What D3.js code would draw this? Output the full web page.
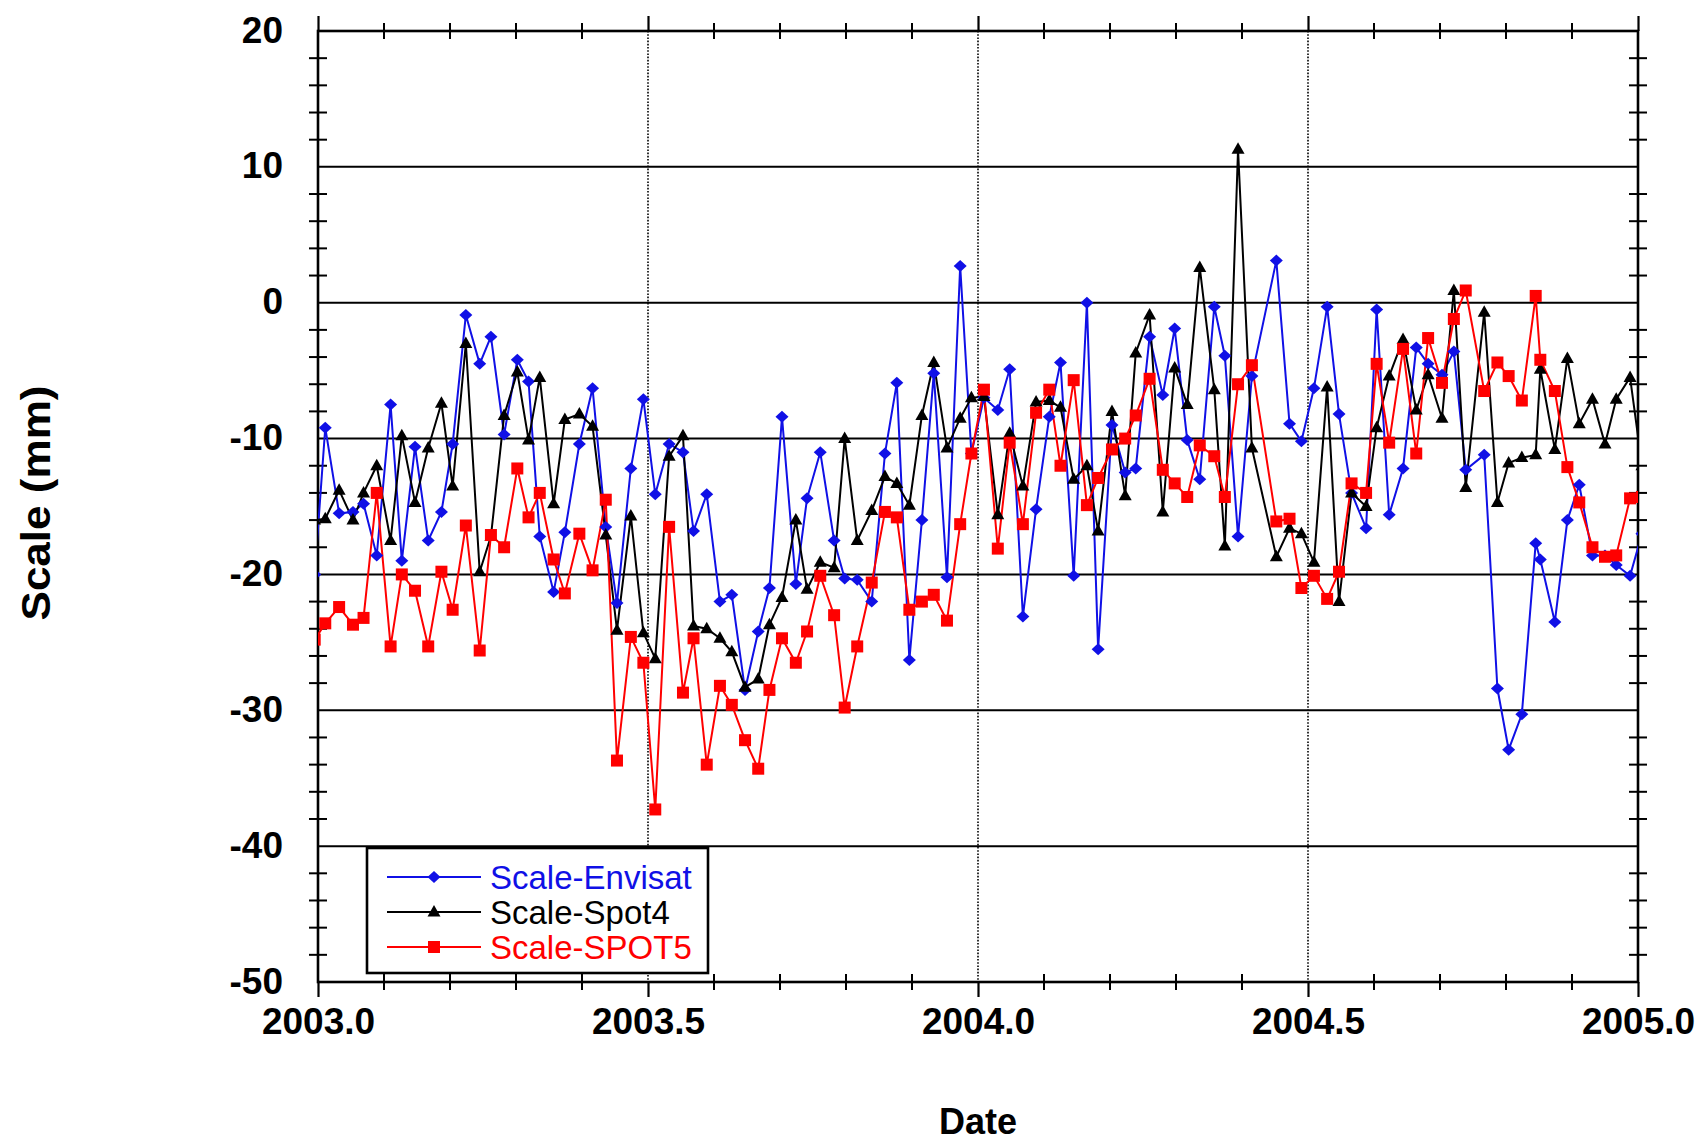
<!DOCTYPE html>
<html>
<head>
<meta charset="utf-8">
<script src="https://cdn.jsdelivr.net/npm/d3@7"></script>
<style>
  html, body { margin: 0; padding: 0; background: #fff; }
  svg { display: block; }
  text { font-family: "Liberation Sans", Arial, Helvetica, sans-serif; }
</style>
</head>
<body>
<svg id="chart" width="1702" height="1141"></svg>
<script>
// ---- data ----
const dates = [2002.995,
  2003.011, 2003.032, 2003.053, 2003.069, 2003.089, 2003.110, 2003.127, 2003.147, 2003.167, 2003.187,
  2003.204, 2003.224, 2003.245, 2003.262, 2003.282, 2003.302, 2003.319, 2003.336, 2003.357, 2003.374,
  2003.396, 2003.416, 2003.436, 2003.453, 2003.474, 2003.493, 2003.511, 2003.532, 2003.553, 2003.569,
  2003.589, 2003.609, 2003.627, 2003.647, 2003.667, 2003.684, 2003.703, 2003.724, 2003.741, 2003.761,
  2003.782, 2003.798, 2003.817, 2003.839, 2003.859, 2003.877, 2003.896, 2003.915, 2003.933, 2003.953,
  2003.973, 2003.990, 2004.009, 2004.030, 2004.048, 2004.068, 2004.088, 2004.108, 2004.125, 2004.145,
  2004.165, 2004.182, 2004.203, 2004.223, 2004.239, 2004.260, 2004.280, 2004.298, 2004.317, 2004.336,
  2004.358, 2004.374, 2004.394, 2004.415, 2004.452, 2004.472, 2004.490, 2004.509, 2004.529, 2004.547,
  2004.566, 2004.588, 2004.604, 2004.623, 2004.644, 2004.664, 2004.682, 2004.703, 2004.721, 2004.739,
  2004.767, 2004.787, 2004.804, 2004.824, 2004.845, 2004.852, 2004.874, 2004.893, 2004.911, 2004.931,
  2004.950, 2004.967, 2004.988, 2005.006];

const scaleEnvisat = [-20.0,
  -9.2, -15.5, -15.4, -14.8, -18.6, -7.5, -19.0, -10.6, -17.5, -15.4,
  -10.4, -0.9, -4.5, -2.5, -9.7, -4.2, -5.8, -17.2, -21.3, -16.9,
  -10.4, -6.3, -16.5, -22.1, -12.2, -7.1, -14.1, -10.4, -11.0, -16.8,
  -14.1, -22.0, -21.5, -28.5, -24.2, -21.0, -8.4, -20.7, -14.4, -11.0,
  -17.5, -20.3, -20.4, -22.0, -11.1, -5.9, -26.3, -16.0, -5.2, -20.2,
  2.7, -11.1, -7.0, -7.9, -4.9, -23.1, -15.2, -8.4, -4.4, -20.1,
  0.0, -25.5, -9.0, -12.5, -12.2, -2.5, -6.8, -1.9, -10.1, -13.0,
  -0.3, -3.9, -17.2, -5.4, 3.1, -8.9, -10.2, -6.3, -0.3, -8.2,
  -14.0, -16.6, -0.5, -15.6, -12.2, -3.3, -4.5, -5.3, -3.6, -12.3,
  -11.2, -28.4, -32.9, -30.3, -17.7, -18.9, -23.5, -16.0, -13.4, -18.6,
  -18.6, -19.3, -20.1, -17.0];

const scaleSpot4 = [-16.0,
  -15.9, -13.8, -16.0, -14.0, -12.0, -17.5, -9.8, -14.7, -10.7, -7.4,
  -13.5, -3.0, -19.8, -17.2, -8.3, -5.1, -10.1, -5.5, -14.8, -8.6,
  -8.2, -9.1, -17.1, -24.1, -15.7, -24.3, -26.2, -11.3, -9.8, -23.8,
  -24.0, -24.7, -25.7, -28.3, -27.7, -23.7, -21.7, -16.0, -21.1, -19.1,
  -19.5, -10.0, -17.5, -15.3, -12.8, -13.3, -14.9, -8.3, -4.4, -10.7,
  -8.5, -7.0, -6.9, -15.6, -9.6, -13.5, -7.3, -7.2, -7.7, -13.0,
  -12.0, -16.8, -8.0, -14.2, -3.7, -0.9, -15.4, -4.8, -7.5, 2.6,
  -6.4, -17.9, 11.3, -10.7, -18.7, -16.6, -17.0, -19.1, -6.2, -22.0,
  -14.0, -15.0, -9.2, -5.4, -2.7, -7.9, -5.3, -8.5, 0.9, -13.6,
  -0.7, -14.7, -11.8, -11.4, -11.2, -4.9, -10.8, -4.1, -8.9, -7.1,
  -10.4, -7.1, -5.5, -12.0];

const scaleSpot5 = [-24.8,
  -23.6, -22.4, -23.7, -23.2, -14.0, -25.3, -20.0, -21.2, -25.3, -19.8,
  -22.6, -16.4, -25.6, -17.1, -18.0, -12.2, -15.8, -14.0, -18.9, -21.4,
  -17.0, -19.7, -14.5, -33.7, -24.6, -26.5, -37.3, -16.5, -28.7, -24.7,
  -34.0, -28.2, -29.6, -32.2, -34.3, -28.5, -24.7, -26.5, -24.2, -20.1,
  -23.0, -29.8, -25.3, -20.6, -15.4, -15.8, -22.6, -22.0, -21.5, -23.4,
  -16.3, -11.1, -6.4, -18.1, -10.3, -16.3, -8.1, -6.4, -12.0, -5.7,
  -14.9, -12.9, -10.8, -10.0, -8.3, -5.6, -12.3, -13.3, -14.3, -10.5,
  -11.3, -14.3, -6.0, -4.6, -16.1, -15.9, -21.0, -20.1, -21.8, -19.8,
  -13.3, -14.0, -4.5, -10.3, -3.4, -11.1, -2.6, -5.9, -1.2, 0.9,
  -6.5, -4.4, -5.4, -7.2, 0.5, -4.2, -6.5, -12.1, -14.7, -18.0,
  -18.7, -18.6, -14.4, -14.3];

const seriesNames = ["Scale-Envisat", "Scale-Spot4", "Scale-SPOT5"];
const xTickValues = [2003.0, 2003.5, 2004.0, 2004.5, 2005.0];
const yTickValues = [-50, -40, -30, -20, -10, 0, 10, 20];
const xTitle = "Date";
const yTitle = "Scale (mm)";

// ---- layout ----
const W = 1702, H = 1141;
const L = 318, R = 1638, T = 31, B = 982;

const svg = d3.select("#chart");
const x = d3.scaleLinear().domain([2003, 2005]).range([L, R]);
const y = d3.scaleLinear().domain([-50, 20]).range([B, T]);

// clip
svg.append("defs").append("clipPath").attr("id", "plotclip")
  .append("rect").attr("x", L).attr("y", T).attr("width", R - L).attr("height", B - T);

// horizontal grid (solid)
svg.append("g").selectAll("line")
  .data(yTickValues.filter(v => v > -50 && v < 20))
  .join("line")
  .attr("x1", L).attr("x2", R)
  .attr("y1", d => y(d)).attr("y2", d => y(d))
  .attr("stroke", "#000").attr("stroke-width", 2);

// vertical grid (dotted)
svg.append("g").selectAll("line")
  .data(xTickValues.filter(v => v > 2003 && v < 2005))
  .join("line")
  .attr("x1", d => x(d)).attr("x2", d => x(d))
  .attr("y1", T).attr("y2", B)
  .attr("stroke", "#000").attr("stroke-width", 1.6)
  .attr("stroke-dasharray", "1.6,1.6");

// minor ticks
const yMinor = d3.range(-48, 20, 2).filter(v => v % 10 !== 0);
const xMinor = d3.range(1, 20).map(i => 2003 + i * 0.1).filter((v, i) => (i + 1) % 5 !== 0);
const tk = svg.append("g").attr("stroke", "#000").attr("stroke-width", 2);
[L, R].forEach(px => {
  tk.append("g").selectAll("line").data(yMinor).join("line")
    .attr("x1", px - 9).attr("x2", px + 9)
    .attr("y1", d => y(d)).attr("y2", d => y(d));
});
[T, B].forEach(py => {
  tk.append("g").selectAll("line").data(xMinor).join("line")
    .attr("y1", py - 8).attr("y2", py + 8)
    .attr("x1", d => x(d)).attr("x2", d => x(d));
});

// axes (labels + outward major x ticks)
const hyphenInt = d => String(d);
const axB = svg.append("g").attr("transform", `translate(0,${B})`)
  .call(d3.axisBottom(x).tickValues(xTickValues).tickSize(15).tickPadding(10)
    .tickFormat(d => d.toFixed(1)));
const axT = svg.append("g").attr("transform", `translate(0,${T})`)
  .call(d3.axisTop(x).tickValues(xTickValues).tickSize(15).tickFormat(""));
const axL = svg.append("g").attr("transform", `translate(${L},0)`)
  .call(d3.axisLeft(y).tickValues(yTickValues).tickSize(0).tickPadding(35)
    .tickFormat(hyphenInt));
[axB, axT, axL].forEach(g => {
  g.select(".domain").remove();
  g.selectAll(".tick line").attr("stroke", "#000").attr("stroke-width", 2.2);
  g.selectAll("text").attr("fill", "#000").attr("font-size", 37).attr("font-weight", "bold")
    .style("font-family", '"Liberation Sans", Arial, sans-serif');
});
axB.selectAll("text").attr("dy", "0.71em").attr("y", 26);
axL.selectAll("text").attr("dy", "0.3em");

// frame
svg.append("rect").attr("x", L).attr("y", T).attr("width", R - L).attr("height", B - T)
  .attr("fill", "none").attr("stroke", "#000").attr("stroke-width", 2.6);

// series
const series = [
  {name: seriesNames[0], values: scaleEnvisat, color: "#1010e6", symbol: "diamond"},
  {name: seriesNames[1], values: scaleSpot4, color: "#000000", symbol: "triangle"},
  {name: seriesNames[2], values: scaleSpot5, color: "#ff0000", symbol: "square"}
];

function marker(sel, sym, color, cx, cy) {
  if (sym === "diamond") {
    sel.append("path").attr("d", `M${cx},${cy-6}L${cx+6.5},${cy}L${cx},${cy+6}L${cx-6.5},${cy}Z`)
      .attr("fill", color);
  } else if (sym === "triangle") {
    sel.append("path").attr("d", `M${cx},${cy-7}L${cx+6.5},${cy+4.5}L${cx-6.5},${cy+4.5}Z`)
      .attr("fill", color);
  } else {
    sel.append("rect").attr("x", cx - 6).attr("y", cy - 6).attr("width", 12).attr("height", 12)
      .attr("fill", color);
  }
}

const plot = svg.append("g").attr("clip-path", "url(#plotclip)");
series.forEach(s => {
  const pts = dates.map((d, i) => [d, s.values[i]]).filter(p => p[1] != null);
  plot.append("path").datum(pts)
    .attr("d", d3.line().x(p => x(p[0])).y(p => y(p[1])))
    .attr("fill", "none").attr("stroke", s.color).attr("stroke-width", 2);
});
series.forEach(s => {
  const g = plot.append("g");
  dates.forEach((d, i) => {
    if (s.values[i] != null) marker(g, s.symbol, s.color, x(d), y(s.values[i]));
  });
});

// legend
const lg = svg.append("g");
lg.append("rect").attr("x", 367).attr("y", 848).attr("width", 341).attr("height", 125)
  .attr("fill", "#fff").attr("stroke", "#000").attr("stroke-width", 2.6);
series.forEach((s, i) => {
  const cy = 877 + i * 35;
  lg.append("line").attr("x1", 387).attr("x2", 481).attr("y1", cy).attr("y2", cy)
    .attr("stroke", s.color).attr("stroke-width", 2);
  marker(lg, s.symbol, s.color, 434, cy);
  lg.append("text").attr("x", 490).attr("y", cy).attr("dy", "0.35em")
    .attr("font-size", 33).attr("fill", s.color).text(s.name);
});

// axis titles
svg.append("text").attr("x", (L + R) / 2).attr("y", 1134).attr("text-anchor", "middle")
  .attr("font-size", 36).attr("font-weight", "bold").text(xTitle);
svg.append("text").attr("transform", `translate(50,${503}) rotate(-90)`)
  .attr("text-anchor", "middle").attr("font-size", 41).attr("font-weight", "bold")
  .attr("textLength", 235).attr("lengthAdjust", "spacingAndGlyphs").text(yTitle);
</script>
</body>
</html>
